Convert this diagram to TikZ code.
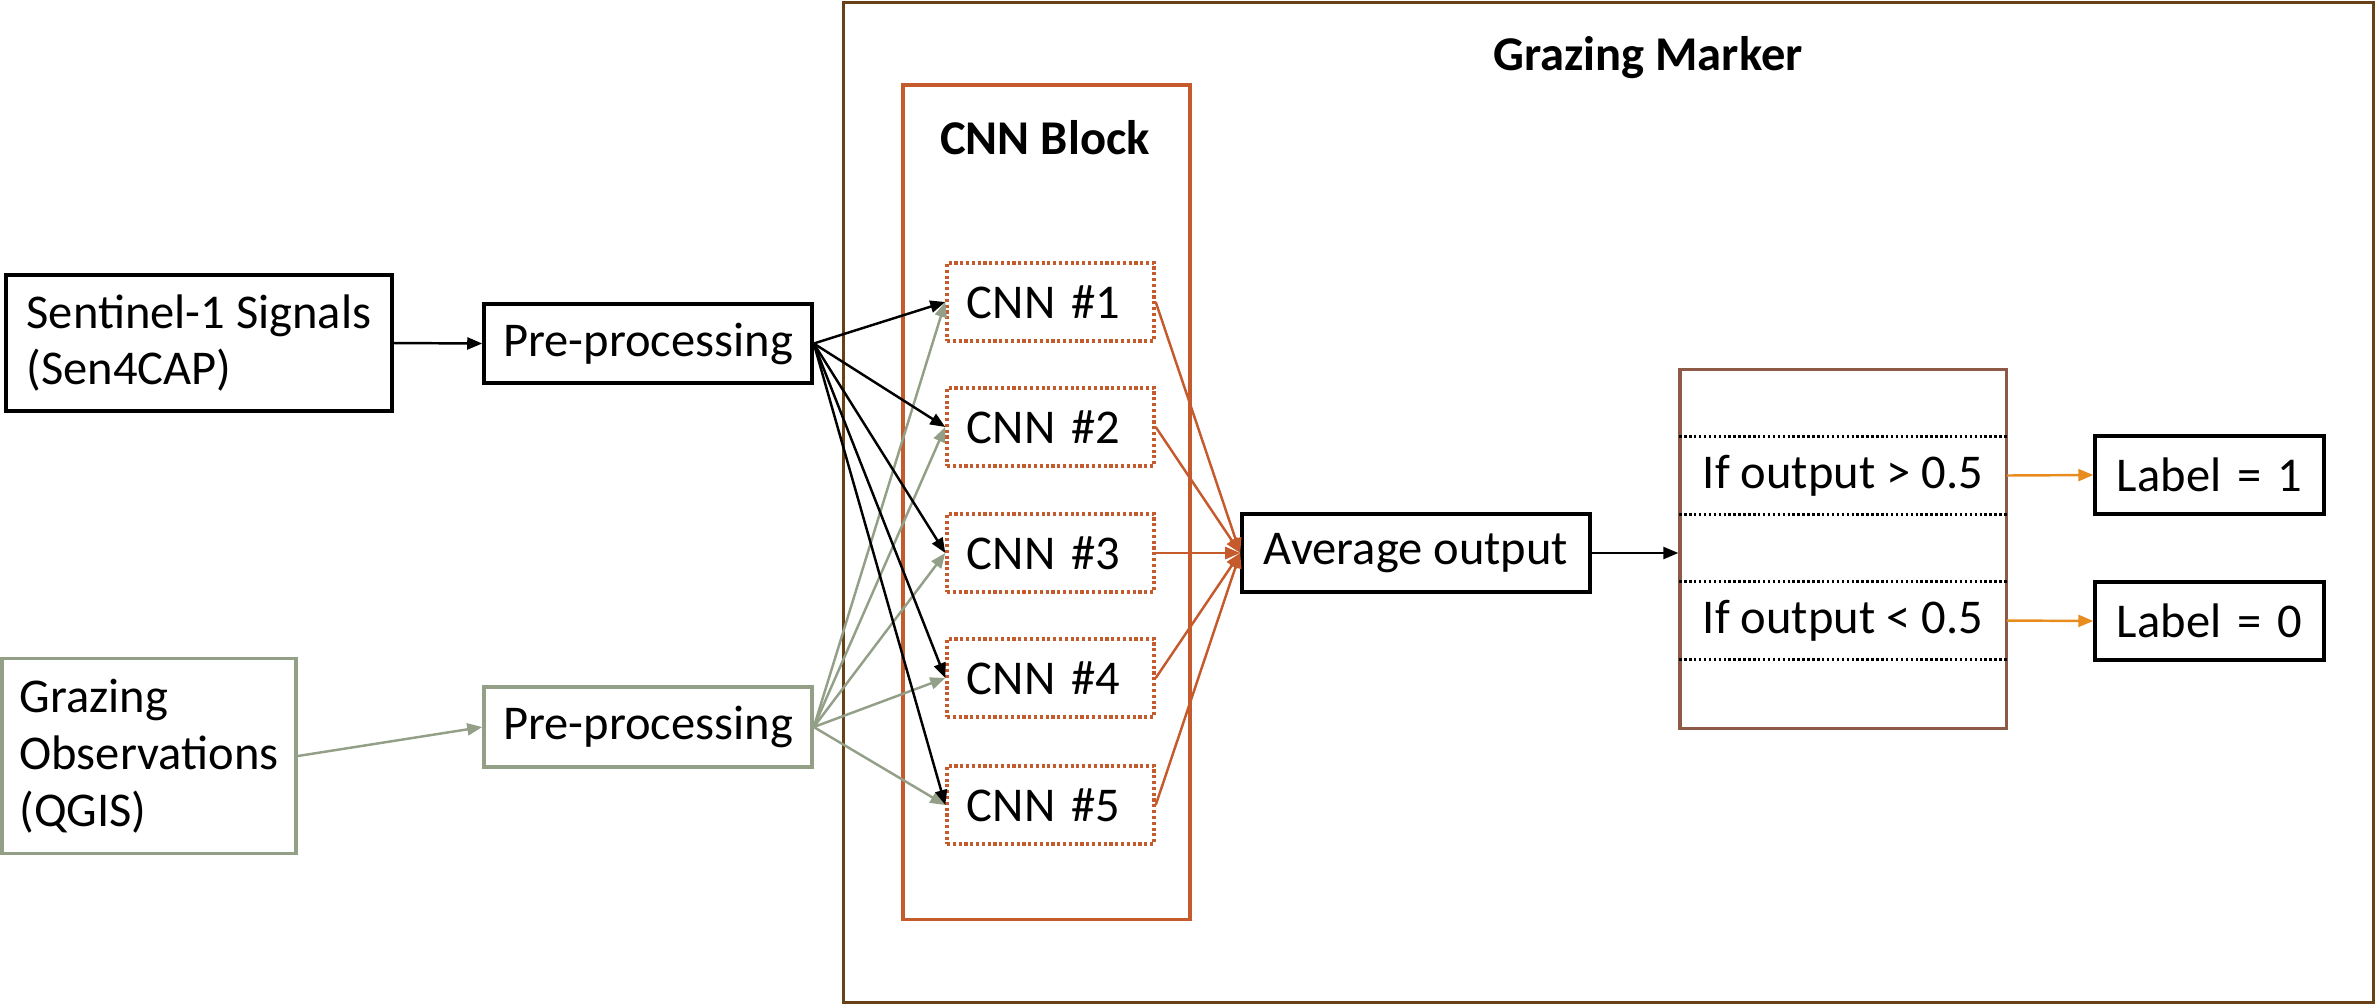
\documentclass[tikz,border=0pt]{standalone}
\usepackage{fontspec}
\setmainfont{Carlito}
\usetikzlibrary{arrows.meta}
\definecolor{outerbrown}{RGB}{105,65,25}
\definecolor{cnnred}{RGB}{197,90,45}
\definecolor{sage}{RGB}{147,160,135}
\definecolor{decbrown}{RGB}{140,90,70}
\definecolor{labelorange}{RGB}{232,140,30}
\begin{document}
\begin{tikzpicture}[x=0.01cm,y=-0.01cm,
  font=\fontsize{13.8}{16.2}\selectfont,
  blackbox/.style={draw=black, line width=0.95pt, inner sep=0pt, align=left},
  greybox/.style={draw=sage, line width=0.95pt, inner sep=0pt, align=left},
  cnnbox/.style={draw=cnnred, line width=0.95pt, dash pattern=on 0.9pt off 0.75pt,
    minimum height=0.78cm, text width=1.67cm, inner xsep=0.2cm, inner ysep=0pt, align=left},
  labelbox/.style={blackbox, minimum height=0.78cm, text width=1.85cm, inner xsep=0.22cm},
  condrow/.style={minimum width=3.26cm, minimum height=0.77cm, inner sep=0pt},
  sepline/.style={line width=0.8pt, dash pattern=on 0.7pt off 0.7pt},
  titletext/.style={font=\fontsize{13.8}{16.2}\selectfont\bfseries},
  arr/.style={-{Triangle[length=0.15cm,width=0.12cm]}, line width=0.7pt}]
\useasboundingbox (0,0) rectangle (2376,1005);

% outer container
\node[draw=outerbrown, line width=1pt, minimum width=15.29cm, minimum height=9.99cm, inner sep=0pt] (gm) at (1608.5,502.5) {};
\node[titletext] (gmtitle) at (1648,58) {Grazing Marker};

% CNN block
\node[draw=cnnred, line width=1pt, minimum width=2.87cm, minimum height=8.34cm, inner sep=0pt] (blk) at (1046.5,502) {};
\node[titletext] (blktitle) at (1045,138) {CNN Block};

% inputs
\node[blackbox, minimum width=3.86cm, minimum height=1.36cm] (sen) at (199,343) {Sentinel-1 Signals\\(Sen4CAP)};
\node[greybox, minimum width=2.94cm, minimum height=1.95cm] (gobs) at (149,756) {Grazing\\Observations\\(QGIS)};
\node[blackbox, minimum width=3.28cm, minimum height=0.79cm, align=center] (pre1) at (648,343.5) {Pre-processing};
\node[greybox, minimum width=3.28cm, minimum height=0.80cm, align=center] (pre2) at (648,727) {Pre-processing};

% CNNs
\foreach \i/\yy in {1/302,2/427,3/553,4/678,5/805}
  \node[cnnbox] (cnn\i) at (1050.5,\yy) {CNN \#\i};

% average
\node[blackbox, minimum width=3.48cm, minimum height=0.78cm, align=center] (avg) at (1416,553) {Average output};

% decision box
\node[draw=decbrown, line width=0.9pt, minimum width=3.26cm, minimum height=3.58cm, inner sep=0pt] (dec) at (1843,549) {};
\node[condrow] (c1) at (1843,475.5) {If output > 0.5};
\node[condrow] (c2) at (1843,620.5) {If output < 0.5};
\draw[sepline] (c1.north west) -- (c1.north east);
\draw[sepline] (c1.south west) -- (c1.south east);
\draw[sepline] (c2.north west) -- (c2.north east);
\draw[sepline] (c2.south west) -- (c2.south east);

% labels
\node[labelbox] (l1) at (2209.5,475) {\mbox{Label = 1}};
\node[labelbox] (l0) at (2209.5,621) {\mbox{Label = 0}};

% connectors
\draw[arr] (sen.east) -- (pre1.west);
\draw[arr, sage] (gobs.east) -- (pre2.west);
\foreach \i in {1,...,5} {
  \draw[arr, sage] (pre2.east) -- (cnn\i.west);
}
\foreach \i in {1,...,5} {
  \draw[arr] (pre1.east) -- (cnn\i.west);
  \draw[arr, cnnred] (cnn\i.east) -- (avg.west);
}
\draw[arr] (avg.east) -- (avg.east -| dec.west);
\draw[arr, labelorange] (c1.east) -- (l1.west);
\draw[arr, labelorange] (c2.east) -- (l0.west);
\end{tikzpicture}
\end{document}
